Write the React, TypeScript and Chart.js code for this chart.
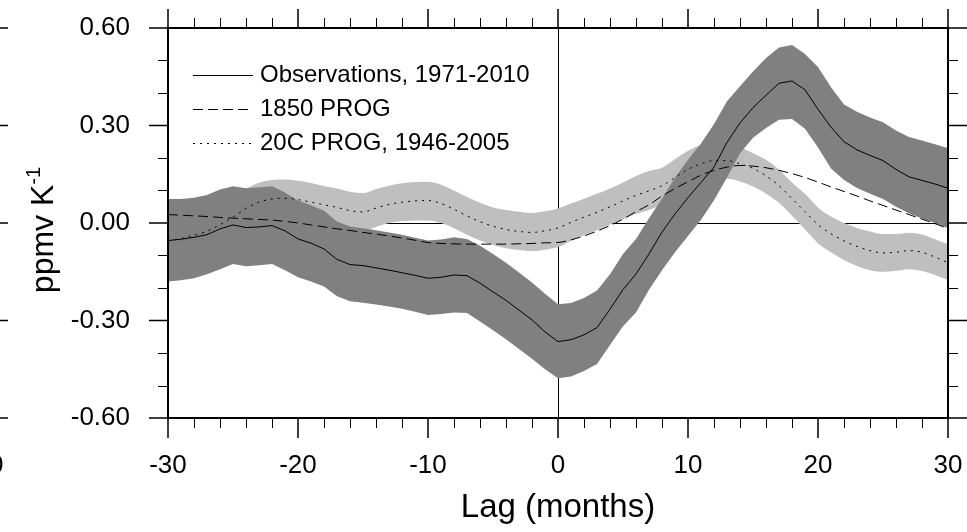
import React, { useEffect, useRef } from "react";
import { Chart, registerables } from "chart.js";

Chart.register(...registerables);

const LAGS = [
  -30, -29, -28, -27, -26, -25, -24, -23, -22, -21, -20, -19, -18, -17, -16, -15,
  -14, -13, -12, -11, -10, -9, -8, -7, -6, -5, -4, -3, -2, -1, 0, 1, 2, 3, 4, 5,
  6, 7, 8, 9, 10, 11, 12, 13, 14, 15, 16, 17, 18, 19, 20, 21, 22, 23, 24, 25, 26,
  27, 28, 29, 30,
];

const OBS = [
  -0.054, -0.05, -0.044, -0.036, -0.018, -0.006, -0.014, -0.012, -0.008, -0.024,
  -0.049, -0.062, -0.08, -0.112, -0.128, -0.131, -0.138, -0.145, -0.153, -0.161,
  -0.17, -0.167, -0.16, -0.162, -0.185, -0.212, -0.238, -0.268, -0.298, -0.335,
  -0.365, -0.359, -0.344, -0.322, -0.265, -0.205, -0.157, -0.095, -0.028, 0.028,
  0.078, 0.125, 0.172, 0.248, 0.308, 0.355, 0.393, 0.43, 0.437, 0.41, 0.35, 0.295,
  0.25, 0.225, 0.208, 0.192, 0.165, 0.142, 0.131, 0.12, 0.107,
];

const OBS_UPPER = [
  0.074, 0.074, 0.078, 0.086, 0.103, 0.113, 0.107, 0.11, 0.113, 0.094, 0.069, 0.055,
  0.038, 0.005, -0.011, -0.016, -0.022, -0.029, -0.036, -0.045, -0.054, -0.051,
  -0.044, -0.049, -0.07, -0.095, -0.122, -0.152, -0.183, -0.218, -0.25, -0.246,
  -0.231, -0.208, -0.158, -0.095, -0.049, 0.015, 0.075, 0.14, 0.195, 0.245, 0.305,
  0.375, 0.421, 0.466, 0.508, 0.54, 0.548, 0.52, 0.48, 0.418, 0.365, 0.342, 0.325,
  0.31, 0.285, 0.265, 0.254, 0.242, 0.23,
];

const OBS_LOWER = [
  -0.18, -0.176, -0.17, -0.158, -0.142, -0.126, -0.133, -0.13, -0.126, -0.145,
  -0.167, -0.18, -0.195, -0.225, -0.241, -0.245, -0.251, -0.257, -0.264, -0.273,
  -0.283, -0.28, -0.275, -0.277, -0.303, -0.33, -0.358, -0.388, -0.418, -0.45,
  -0.478, -0.472, -0.455, -0.434, -0.375, -0.318, -0.275, -0.205, -0.145, -0.09,
  -0.04, 0.01, 0.07, 0.14, 0.215, 0.262, 0.292, 0.318, 0.32, 0.29, 0.232, 0.168,
  0.132, 0.108, 0.09, 0.074, 0.05, 0.03, 0.014, 0.0, -0.016,
];

const PROG_1850 = [
  0.026, 0.024, 0.022, 0.02, 0.017, 0.015, 0.013, 0.011, 0.009, 0.005, 0.0, -0.006,
  -0.012, -0.018, -0.023, -0.029, -0.034, -0.04, -0.046, -0.053, -0.06, -0.063,
  -0.064, -0.065, -0.065, -0.065, -0.065, -0.064, -0.063, -0.061, -0.06, -0.052,
  -0.04, -0.025, -0.008, 0.012, 0.035, 0.056, 0.083, 0.106, 0.127, 0.147, 0.162,
  0.172, 0.177, 0.175, 0.17, 0.162, 0.152, 0.14, 0.126, 0.111, 0.097, 0.083, 0.068,
  0.054, 0.04, 0.026, 0.012, -0.002, -0.017,
];

const PROG_20C = [
  -0.055, -0.048, -0.038, -0.025, -0.005, 0.018, 0.045, 0.064, 0.074, 0.076, 0.072,
  0.064, 0.056, 0.048, 0.038, 0.034, 0.046, 0.057, 0.064, 0.068, 0.069, 0.06, 0.042,
  0.022, 0.004, -0.01, -0.02, -0.026, -0.029, -0.024, -0.015, 0.002, 0.018, 0.033,
  0.05, 0.068, 0.085, 0.099, 0.115, 0.14, 0.165, 0.182, 0.192, 0.192, 0.182, 0.168,
  0.145, 0.115, 0.075, 0.035, -0.005, -0.033, -0.055, -0.072, -0.085, -0.092,
  -0.09, -0.085, -0.09, -0.105, -0.122,
];

const PROG_20C_UPPER = [
  0.005, 0.012, 0.022, 0.035, 0.055, 0.078, 0.105, 0.124, 0.132, 0.134, 0.13, 0.123,
  0.114, 0.106, 0.096, 0.092, 0.105, 0.115, 0.122, 0.126, 0.127, 0.118, 0.1, 0.08,
  0.062, 0.048, 0.04, 0.035, 0.031, 0.036, 0.045, 0.06, 0.075, 0.09, 0.106, 0.125,
  0.145, 0.16, 0.17, 0.196, 0.222, 0.24, 0.248, 0.246, 0.233, 0.215, 0.195, 0.165,
  0.125, 0.09, 0.048, 0.02, 0.0, -0.015, -0.026, -0.034, -0.034, -0.03, -0.035,
  -0.05, -0.065,
];

const PROG_20C_LOWER = [
  -0.115, -0.108, -0.098, -0.085, -0.065, -0.042, -0.015, 0.004, 0.014, 0.016, 0.012,
  0.004, -0.004, -0.012, -0.02, -0.024, -0.012, 0.0, 0.006, 0.008, 0.008, 0.0,
  -0.016, -0.036, -0.054, -0.068, -0.078, -0.083, -0.086, -0.082, -0.074, -0.055,
  -0.038, -0.022, -0.005, 0.012, 0.028, 0.04, 0.058, 0.084, 0.108, 0.124, 0.134,
  0.136, 0.128, 0.112, 0.09, 0.062, 0.022, -0.02, -0.062, -0.09, -0.114, -0.132,
  -0.145, -0.15, -0.147, -0.142, -0.148, -0.16, -0.175,
];

const X_MAJOR_TICKS = [-30, -20, -10, 0, 10, 20, 30];
const X_MINOR_TICKS = [
  -28, -26, -24, -22, -18, -16, -14, -12, -8, -6, -4, -2, 2, 4, 6, 8, 12, 14, 16, 18,
  22, 24, 26, 28,
];
const Y_MAJOR_TICKS = [-0.6, -0.3, 0, 0.3, 0.6];
const Y_MINOR_TICKS = [-0.5, -0.4, -0.2, -0.1, 0.1, 0.2, 0.4, 0.5];

const SERIES_LABELS = ["Observations, 1971-2010", "1850 PROG", "20C PROG, 1946-2005"];
const X_TITLE = "Lag (months)";
const Y_TITLE = "ppmv K";
const Y_TITLE_SUP = "-1";
const NEIGHBOR_X_LABEL = "30";

const FONT = '"Liberation Sans", Arial, Helvetica, sans-serif';
const DARK = "#808080";
const LIGHT = "#bfbfbf";

const pts = (arr: number[]) => LAGS.map((x, i) => ({ x, y: arr[i] }));

export default function App() {
  const ref = useRef<HTMLCanvasElement | null>(null);

  useEffect(() => {
    document.body.style.margin = "0";
    const canvas = ref.current;
    if (!canvas) return;

    const framePlugin = {
      id: "frame",
      beforeDatasetsDraw(chart: any) {
        const { ctx, chartArea } = chart;
        const xs = chart.scales.x;
        const ys = chart.scales.y;
        ctx.save();
        ctx.strokeStyle = "#000";
        ctx.lineWidth = 1;
        ctx.setLineDash([]);
        const y0 = Math.round(ys.getPixelForValue(0)) + 0.5;
        const x0 = Math.round(xs.getPixelForValue(0)) + 0.5;
        ctx.beginPath();
        ctx.moveTo(chartArea.left, y0);
        ctx.lineTo(chartArea.right, y0);
        ctx.moveTo(x0, chartArea.top);
        ctx.lineTo(x0, chartArea.bottom);
        ctx.stroke();
        ctx.restore();
      },
      afterDraw(chart: any) {
        const { ctx, chartArea } = chart;
        const { left, right, top, bottom } = chartArea;
        const xs = chart.scales.x;
        const ys = chart.scales.y;
        ctx.save();
        ctx.strokeStyle = "#000";
        ctx.fillStyle = "#000";
        ctx.setLineDash([]);

        // frame
        ctx.lineWidth = 2;
        ctx.strokeRect(left, top, right - left, bottom - top);

        // major ticks
        ctx.lineWidth = 1.5;
        ctx.beginPath();
        X_MAJOR_TICKS.forEach((v) => {
          const p = xs.getPixelForValue(v);
          ctx.moveTo(p, bottom);
          ctx.lineTo(p, bottom + 20);
          ctx.moveTo(p, top);
          ctx.lineTo(p, top - 19);
        });
        Y_MAJOR_TICKS.forEach((v) => {
          const p = ys.getPixelForValue(v);
          ctx.moveTo(left, p);
          ctx.lineTo(left - 19, p);
          ctx.moveTo(right, p);
          ctx.lineTo(right + 19, p);
        });
        ctx.stroke();

        // minor ticks
        ctx.lineWidth = 1;
        ctx.beginPath();
        X_MINOR_TICKS.forEach((v) => {
          const p = Math.round(xs.getPixelForValue(v)) + 0.5;
          ctx.moveTo(p, bottom);
          ctx.lineTo(p, bottom + 10);
          ctx.moveTo(p, top);
          ctx.lineTo(p, top - 10);
        });
        Y_MINOR_TICKS.forEach((v) => {
          const p = Math.round(ys.getPixelForValue(v)) + 0.5;
          ctx.moveTo(left, p);
          ctx.lineTo(left - 10, p);
          ctx.moveTo(right, p);
          ctx.lineTo(right + 10, p);
        });
        ctx.stroke();

        // neighbouring panel remnants at the left edge
        ctx.lineWidth = 1.5;
        ctx.beginPath();
        Y_MAJOR_TICKS.forEach((v) => {
          const p = ys.getPixelForValue(v);
          ctx.moveTo(0, p);
          ctx.lineTo(8, p);
        });
        ctx.stroke();
        ctx.font = `26px ${FONT}`;
        ctx.textAlign = "center";
        ctx.textBaseline = "middle";
        ctx.fillText(NEIGHBOR_X_LABEL, -11, bottom + 48);

        // legend
        const styles = [[], [10, 5], [2, 5]];
        const rows = [top + 47, top + 81, top + 115];
        ctx.font = `24px ${FONT}`;
        ctx.textAlign = "left";
        ctx.textBaseline = "middle";
        SERIES_LABELS.forEach((label, i) => {
          const y = rows[i] + 0.5;
          ctx.lineWidth = 1;
          ctx.setLineDash(styles[i]);
          ctx.beginPath();
          ctx.moveTo(left + 25, y);
          ctx.lineTo(left + 85, y);
          ctx.stroke();
          ctx.setLineDash([]);
          ctx.fillText(label, left + 92, rows[i]);
        });

        // y-axis title with superscript
        const mainFont = `32px ${FONT}`;
        const supFont = `20px ${FONT}`;
        ctx.font = mainFont;
        const w1 = ctx.measureText(Y_TITLE).width;
        ctx.font = supFont;
        const w2 = ctx.measureText(Y_TITLE_SUP).width;
        const total = w1 + w2;
        ctx.translate(42, 230);
        ctx.rotate(-Math.PI / 2);
        ctx.textBaseline = "alphabetic";
        ctx.textAlign = "left";
        ctx.font = mainFont;
        ctx.fillText(Y_TITLE, -total / 2, 11);
        ctx.font = supFont;
        ctx.fillText(Y_TITLE_SUP, -total / 2 + w1, -2);

        ctx.restore();
      },
    };

    const chart = new Chart(canvas, {
      type: "line",
      data: {
        datasets: [
          {
            label: SERIES_LABELS[0],
            data: pts(OBS),
            borderColor: "#000",
            borderWidth: 1,
            pointRadius: 0,
            fill: false,
            tension: 0,
          },
          {
            label: SERIES_LABELS[1],
            data: pts(PROG_1850),
            borderColor: "#000",
            borderWidth: 1,
            borderDash: [10, 5],
            pointRadius: 0,
            fill: false,
            cubicInterpolationMode: "monotone",
          },
          {
            label: SERIES_LABELS[2],
            data: pts(PROG_20C),
            borderColor: "#000",
            borderWidth: 1,
            borderDash: [2, 5],
            pointRadius: 0,
            fill: false,
            cubicInterpolationMode: "monotone",
          },
          {
            label: "obs upper",
            data: pts(OBS_UPPER),
            borderColor: "rgba(0,0,0,0)",
            borderWidth: 0,
            backgroundColor: DARK,
            pointRadius: 0,
            fill: "+1",
            tension: 0,
          },
          {
            label: "obs lower",
            data: pts(OBS_LOWER),
            borderColor: "rgba(0,0,0,0)",
            borderWidth: 0,
            pointRadius: 0,
            fill: false,
            tension: 0,
          },
          {
            label: "20c upper",
            data: pts(PROG_20C_UPPER),
            borderColor: "rgba(0,0,0,0)",
            borderWidth: 0,
            backgroundColor: LIGHT,
            pointRadius: 0,
            fill: "+1",
            cubicInterpolationMode: "monotone",
          },
          {
            label: "20c lower",
            data: pts(PROG_20C_LOWER),
            borderColor: "rgba(0,0,0,0)",
            borderWidth: 0,
            pointRadius: 0,
            fill: false,
            cubicInterpolationMode: "monotone",
          },
        ],
      },
      options: {
        animation: false,
        responsive: false,
        devicePixelRatio: 1,
        layout: { padding: { left: 0, top: 28, right: 19, bottom: 0 } },
        plugins: {
          legend: { display: false },
          tooltip: { enabled: false },
        },
        scales: {
          x: {
            type: "linear",
            min: -30,
            max: 30,
            grid: { display: false, drawTicks: true, tickLength: 32 },
            border: { display: false },
            afterBuildTicks: (s: any) => {
              s.ticks = X_MAJOR_TICKS.map((v) => ({ value: v }));
            },
            afterFit: (s: any) => {
              s.height = 114;
            },
            ticks: {
              color: "#000",
              font: { family: FONT, size: 26 },
              padding: 0,
              maxRotation: 0,
              autoSkip: false,
              callback: (v: any) => String(v),
            },
            title: {
              display: true,
              text: X_TITLE,
              color: "#000",
              font: { family: FONT, size: 33 },
              padding: { top: 0, bottom: 4 },
            },
          },
          y: {
            type: "linear",
            min: -0.6,
            max: 0.6,
            grid: { display: false, drawTicks: true, tickLength: 38 },
            border: { display: false },
            afterBuildTicks: (s: any) => {
              s.ticks = Y_MAJOR_TICKS.map((v) => ({ value: v }));
            },
            afterFit: (s: any) => {
              s.width = 168;
            },
            ticks: {
              color: "#000",
              font: { family: FONT, size: 26 },
              padding: 0,
              callback: (v: any) => Number(v).toFixed(2),
            },
          },
        },
      },
      plugins: [framePlugin],
    });

    return () => chart.destroy();
  }, []);

  return (
    <div style={{ width: 967, height: 532, background: "#fff" }}>
      <canvas ref={ref} width={967} height={532} style={{ display: "block" }} />
    </div>
  );
}
